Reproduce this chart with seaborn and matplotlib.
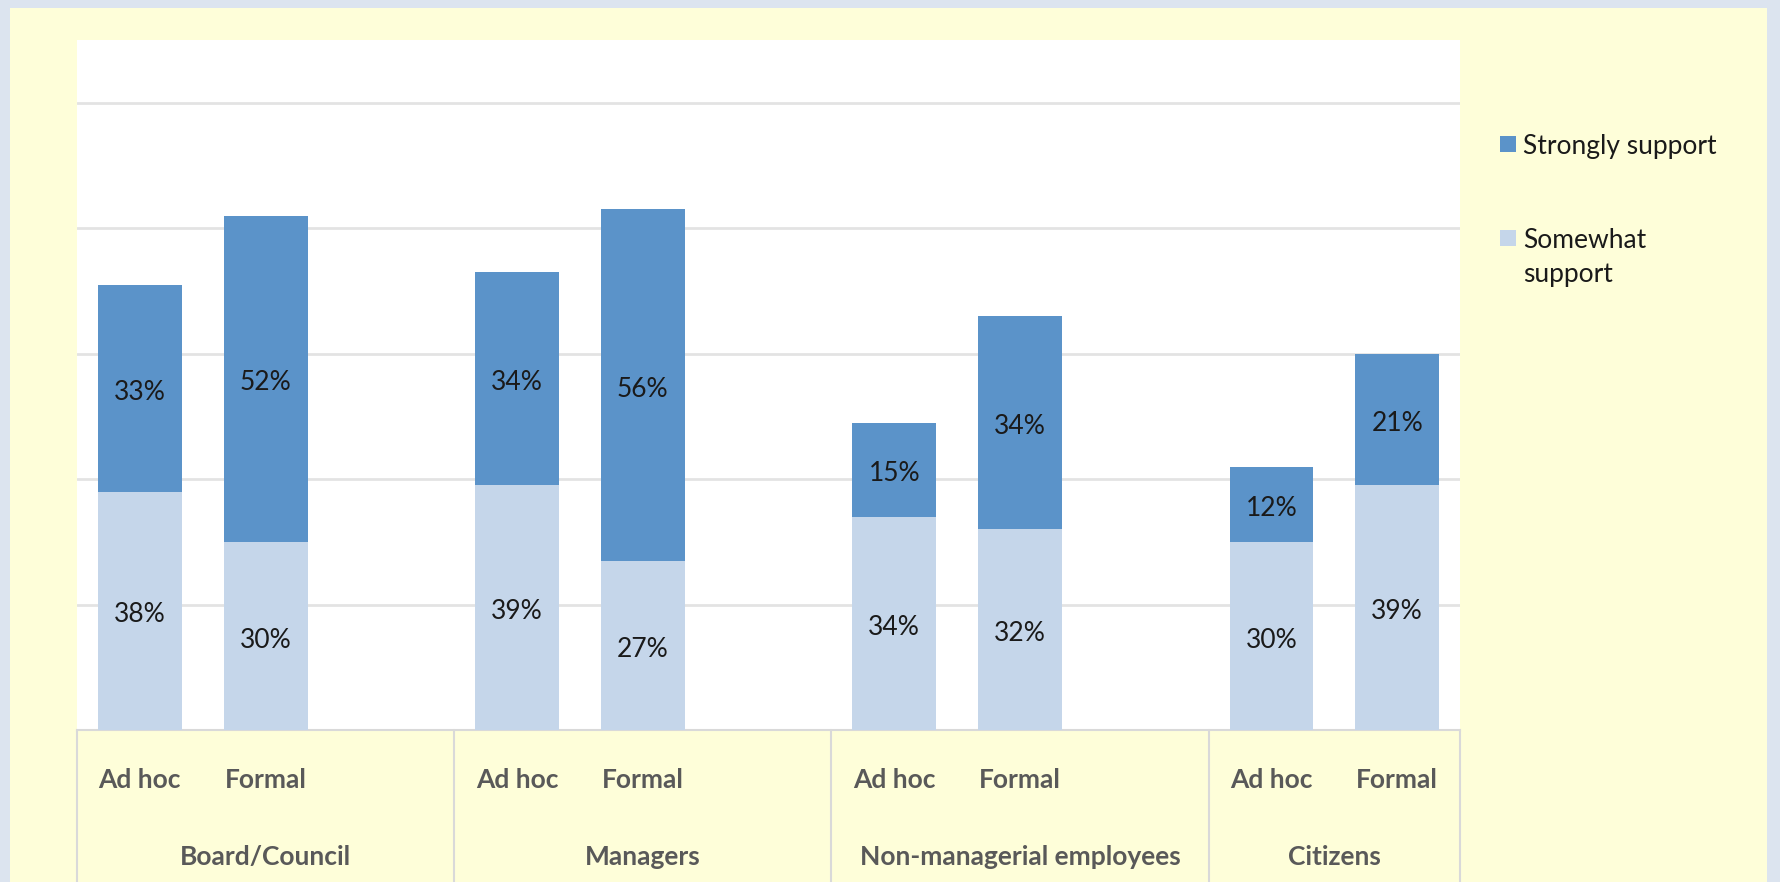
import matplotlib
matplotlib.use('Agg')
import matplotlib.pyplot as plt
import matplotlib.transforms as mtransforms
import seaborn as sns
import pandas as pd
from matplotlib.patches import Rectangle

# data
groups = ['Board/Council', 'Managers', 'Non-managerial employees', 'Citizens']
types = ['Ad hoc', 'Formal']
somewhat = [38, 30, 39, 27, 34, 32, 30, 39]
strongly = [33, 52, 34, 56, 15, 34, 12, 21]

DARK = '#5b93c9'
LIGHT = '#c5d6ea'
YELLOW = '#fefed9'
BORDER = '#dce4ef'

rows = []
for i, g in enumerate(groups):
    for j, t in enumerate(types):
        k = i * 2 + j
        rows.append({'slot': f'{g}|{t}', 'group': g, 'type': t,
                     'somewhat': somewhat[k], 'strongly': strongly[k],
                     'total': somewhat[k] + strongly[k]})
df = pd.DataFrame(rows)

# every group but the last has a third, empty slot (as in the original Excel chart)
order = []
bounds = [-0.5]
for i, g in enumerate(groups):
    order += [f'{g}|{t}' for t in types]
    if i < len(groups) - 1:
        order.append(f'{g}|blank')
    bounds.append(len(order) - 0.5)

sns.set_theme(style='white')
plt.rcParams['font.family'] = ['Lato', 'DejaVu Sans']

FS = 19

fig = plt.figure(figsize=(17.8, 8.82), dpi=100)
fig.patch.set_facecolor(BORDER)
fig.patches.append(Rectangle((10 / 1780, 0), 1757 / 1780, 874 / 882,
                             transform=fig.transFigure, facecolor=YELLOW,
                             edgecolor='none', zorder=-10))

ax = fig.add_axes([77 / 1780, 152 / 882, 1383 / 1780, 690 / 882])
ax.set_facecolor('white')

sns.barplot(data=df, x='slot', y='total', order=order, color=DARK,
            width=2 / 3, saturation=1, linewidth=0, ax=ax, zorder=3)
sns.barplot(data=df, x='slot', y='somewhat', order=order, color=LIGHT,
            width=2 / 3, saturation=1, linewidth=0, ax=ax, zorder=4)

ax.set_ylim(0, 110)
ax.set_xlim(-0.5, len(order) - 0.5)
ax.set_yticks([20, 40, 60, 80, 100])
ax.yaxis.grid(True, color='#e3e3e3', linewidth=2)
ax.set_axisbelow(True)
ax.tick_params(left=False, bottom=False, labelleft=False, labelbottom=False)
ax.set_xlabel('')
ax.set_ylabel('')
for s in ['top', 'right', 'left']:
    ax.spines[s].set_visible(False)
ax.spines['bottom'].set_color('#d9d9d9')
ax.spines['bottom'].set_linewidth(1.5)

# segment labels (nudged down a little, like Excel's centring)
lab_tr = ax.transData + mtransforms.ScaledTranslation(0, -3 / 72, fig.dpi_scale_trans)
for _, r in df.iterrows():
    x = order.index(r['slot'])
    ax.text(x, r['somewhat'] / 2, f"{r['somewhat']}%", ha='center', va='center',
            fontsize=FS, color='#1a1a1a', zorder=6, transform=lab_tr)
    ax.text(x, r['somewhat'] + r['strongly'] / 2, f"{r['strongly']}%",
            ha='center', va='center', fontsize=FS, color='#1a1a1a', zorder=6,
            transform=lab_tr)

# multi-level category axis
trans = ax.get_xaxis_transform()
for i, g in enumerate(groups):
    xs = [order.index(f'{g}|{t}') for t in types]
    for x, t in zip(xs, types):
        ax.text(x, -0.0725, t, transform=trans, ha='center', va='center',
                fontsize=FS, fontweight='bold', color='#595959')
    ax.text((bounds[i] + bounds[i + 1]) / 2, -0.184, g, transform=trans,
            ha='center', va='center', fontsize=FS, fontweight='bold', color='#595959')
for xb in bounds:
    ax.plot([xb, xb], [0, -0.25], transform=trans, color='#d9d9d9',
            linewidth=1.5, clip_on=False)

# legend
def fx(px):
    return px / 1780

def fy(py):
    return 1 - py / 882

leg = [(DARK, 'Strongly support', 136), (LIGHT, 'Somewhat\nsupport', 230)]
for col, lab, top in leg:
    fig.patches.append(Rectangle((fx(1500), fy(top + 16)), 16 / 1780, 16 / 882,
                                 transform=fig.transFigure, facecolor=col,
                                 edgecolor='none'))
    fig.text(fx(1523), fy(top - 2), lab, ha='left', va='top', fontsize=FS,
             color='#1a1a1a', linespacing=1.45)

fig.savefig('out.png', dpi=100, facecolor=fig.get_facecolor())
